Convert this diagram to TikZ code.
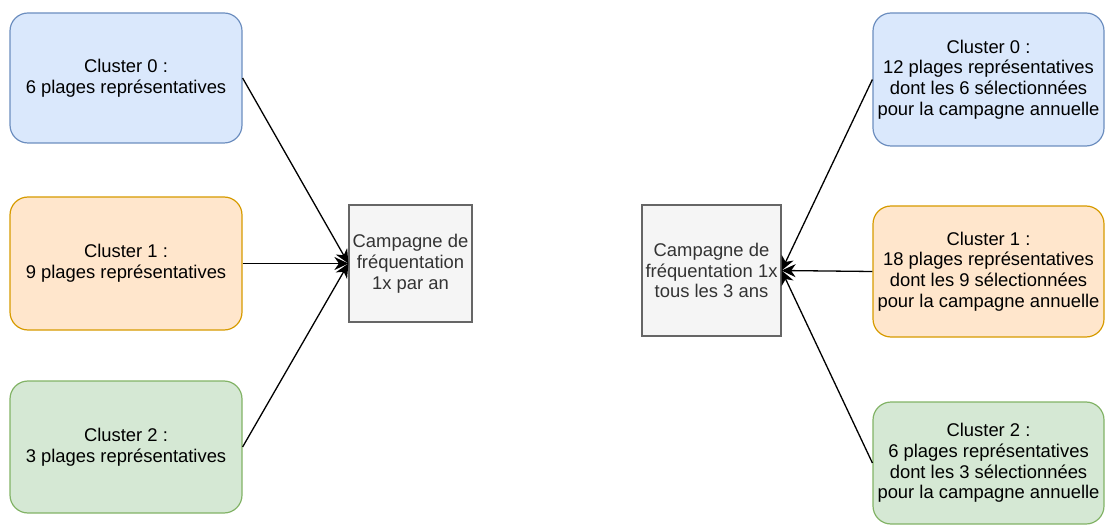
\documentclass[tikz,border=0pt]{standalone}
\usepackage{fontspec}
\setmainfont{Liberation Sans}
\usetikzlibrary{arrows.meta}
\definecolor{bfill}{HTML}{DAE8FC}\definecolor{bdraw}{HTML}{6C8EBF}
\definecolor{ofill}{HTML}{FFE6CC}\definecolor{odraw}{HTML}{D79B00}
\definecolor{gfill}{HTML}{D5E8D4}\definecolor{gdraw}{HTML}{82B366}
\definecolor{kfill}{HTML}{F5F5F5}\definecolor{kdraw}{HTML}{666666}
\definecolor{ktext}{HTML}{333333}
\begin{document}
\begin{tikzpicture}[x=1pt,y=-1pt,
  base/.style={font=\fontsize{18.4}{20.8}\selectfont, align=center, inner sep=0pt, line width=1.2pt},
  cl/.style={base, rounded corners=18pt},
  blue/.style={cl, fill=bfill, draw=bdraw},
  orng/.style={cl, fill=ofill, draw=odraw},
  grn/.style={cl, fill=gfill, draw=gdraw},
  camp/.style={base, fill=kfill, draw=kdraw, text=ktext},
  conn/.style={line width=1.3pt, -{Stealth[length=14pt,width=13pt,inset=4.5pt]}}]
\useasboundingbox (0,0) rectangle (1107,526);
% left
\node[blue, minimum width=232pt, minimum height=130pt] (l0) at (126,78) {Cluster 0 :\\6 plages représentatives};
\node[orng, minimum width=232pt, minimum height=133pt] (l1) at (126,263.5) {Cluster 1 :\\9 plages représentatives};
\node[grn, minimum width=232pt, minimum height=132pt] (l2) at (126,447) {Cluster 2 :\\3 plages représentatives};
\node[camp, minimum width=123pt, minimum height=117pt] (cl) at (410.5,263.5) {Campagne de\\fréquentation\\1x par an};
% right
\node[camp, minimum width=139pt, minimum height=131pt] (cr) at (711.5,270.5) {Campagne de\\fréquentation 1x\\tous les 3 ans};
\node[blue, minimum width=231pt, minimum height=133pt] (r0) at (988.5,79.5) {Cluster 0 :\\12 plages représentatives\\dont les 6 sélectionnées\\pour la campagne annuelle};
\node[orng, minimum width=231pt, minimum height=131pt] (r1) at (988.5,271.5) {Cluster 1 :\\18 plages représentatives\\dont les 9 sélectionnées\\pour la campagne annuelle};
\node[grn, minimum width=231pt, minimum height=122pt] (r2) at (988.5,463) {Cluster 2 :\\6 plages représentatives\\dont les 3 sélectionnées\\pour la campagne annuelle};
% connectors
\draw[conn] (l0.east) -- (cl.west);
\draw[conn] (l1.east) -- (cl.west);
\draw[conn] (l2.east) -- (cl.west);
\draw[conn] (r0.west) -- (cr.east);
\draw[conn] (r1.west) -- (cr.east);
\draw[conn] (r2.west) -- (cr.east);
\end{tikzpicture}
\end{document}
